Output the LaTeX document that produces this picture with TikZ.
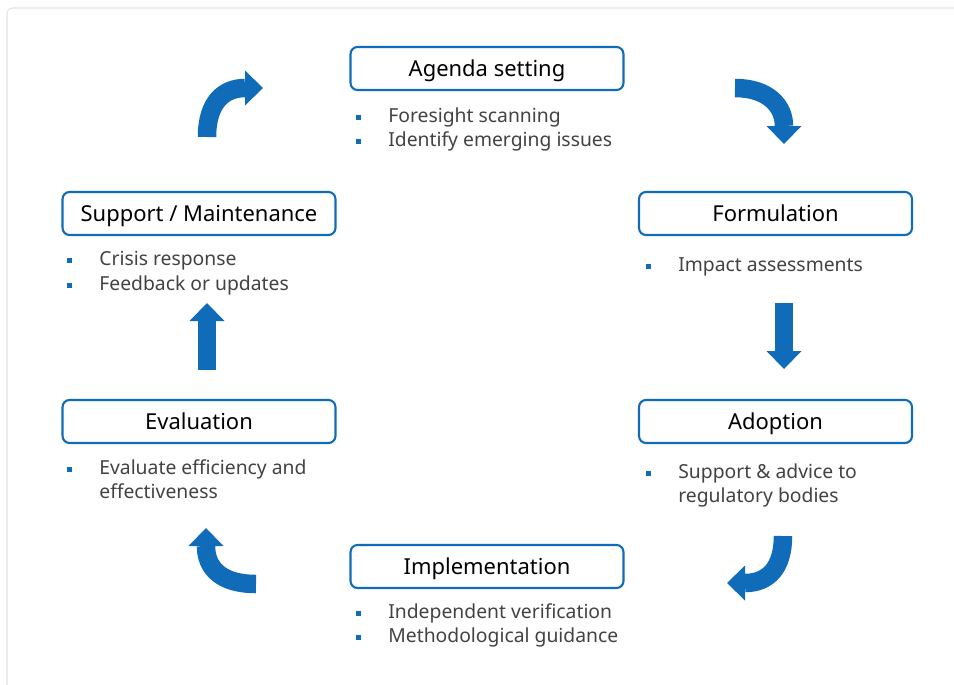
\documentclass[tikz,border=0pt]{standalone}
\usepackage{fontspec}
\setmainfont{Noto Sans}
\usetikzlibrary{arrows.meta,positioning}

\definecolor{cycleblue}{RGB}{16,108,184}
\definecolor{textgray}{RGB}{66,66,66}
\definecolor{framegray}{RGB}{226,226,226}

% small blue square in front of a point
\newcommand{\blt}{\llap{\textcolor{cycleblue}{\rule[0.05cm]{0.1cm}{0.1cm}}\hspace{0.55cm}}}

\begin{document}
\begin{tikzpicture}[x=0.02cm,y=-0.02cm]
	\tikzset{
		stage/.style={draw=cycleblue, line width=1.2pt, rounded corners=0.14cm,
			minimum width=5.46cm, minimum height=0.86cm, fill=white,
			text height=0.4cm, text depth=0.08cm,
			font=\fontsize{12.5}{15}\selectfont, text=black},
		point/.style={anchor=base west, inner sep=0pt, text=textgray,
			font=\fontsize{11}{13}\selectfont},
		turn/.style={draw=cycleblue, line width=0.37cm,
			-{Triangle[length=0.36cm, width=0.7cm, line width=0pt]}}
	}

	\useasboundingbox (0,0) rectangle (954,684);
	\draw [framegray, line width=0.6pt, rounded corners=0.1cm] (7,8) rectangle (990,720);

	% stages
	\node (agenda) [stage] at (487,68.5) {Agenda setting};
	\node (formul) [stage] at (775.5,213.5) {Formulation};
	\node (adopt) [stage] at (775.5,421.5) {Adoption};
	\node (implem) [stage] at (487,566.5) {Implementation};
	\node (evalu) [stage] at (199,421.5) {Evaluation};
	\node (support) [stage] at (199,213.5) {Support / Maintenance};

	% points under the stages
	\node (agenda1) [point] at (388,122) {\blt Foresight scanning};
	\node (agenda2) [point] at (388,146) {\blt Identify emerging issues};
	\node (formul1) [point] at (678,271) {\blt Impact assessments};
	\node (adopt1) [point] at (678,478) {\blt Support \& advice to};
	\node (adopt2) [point] at (678,502) {regulatory bodies};
	\node (implem1) [point] at (388,618) {\blt Independent verification};
	\node (implem2) [point] at (388,642) {\blt Methodological guidance};
	\node (evalu1) [point] at (99,474) {\blt Evaluate efficiency and};
	\node (evalu2) [point] at (99,498) {effectiveness};
	\node (support1) [point] at (99,265) {\blt Crisis response};
	\node (support2) [point] at (99,290) {\blt Feedback or updates};

	% arrows of the cycle
	\coordinate (tlfoot) at (207,137);
	\coordinate (tltip) at (263,88);
	\coordinate (trfoot) at (735,88);
	\coordinate (trtip) at (784,144);
	\coordinate (rfoot) at (784,303);
	\coordinate (rtip) at (784,369);
	\coordinate (brfoot) at (783,536);
	\coordinate (brtip) at (727,583);
	\coordinate (blfoot) at (256,584);
	\coordinate (bltip) at (206,528);
	\coordinate (lfoot) at (207,370);
	\coordinate (ltip) at (207,303);

	\draw [turn] (tlfoot) .. controls (207,102) and (224,88) .. (tltip);
	\draw [turn] (trfoot) .. controls (768,88) and (784,106) .. (trtip);
	\draw [turn] (rfoot) -- (rtip);
	\draw [turn] (brfoot) .. controls (783,568) and (768,583) .. (brtip);
	\draw [turn] (blfoot) .. controls (221,584) and (206,568) .. (bltip);
	\draw [turn] (lfoot) -- (ltip);
\end{tikzpicture}
\end{document}
